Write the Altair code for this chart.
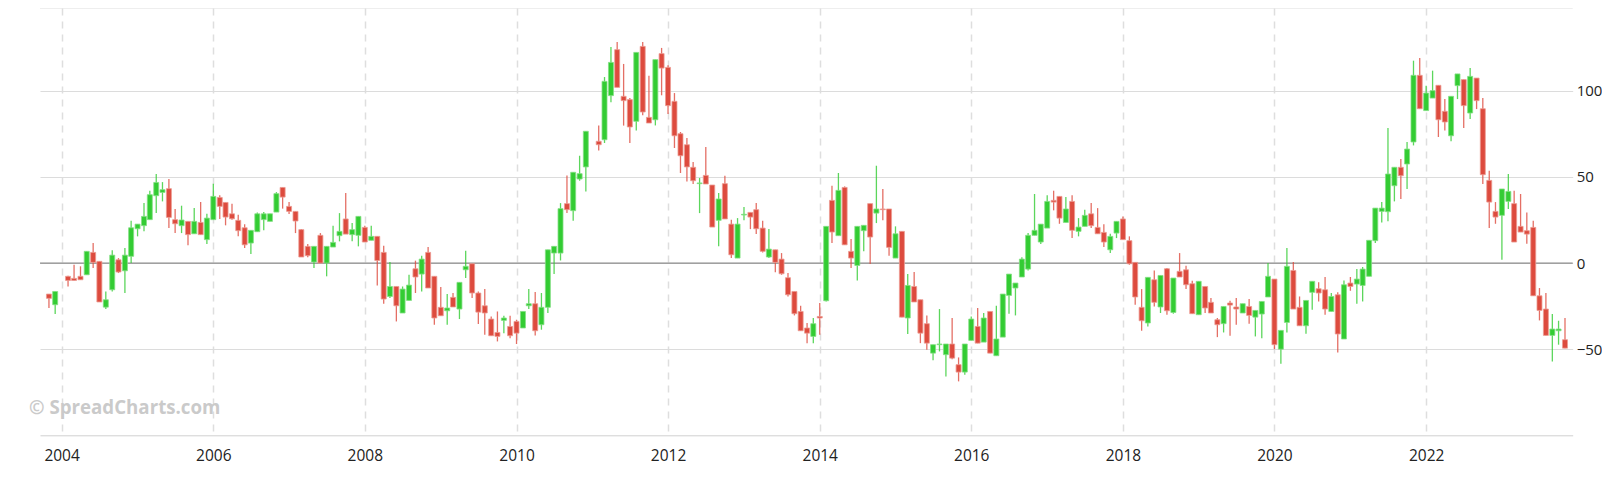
import altair as alt
import numpy as np
import pandas as pd

# Monthly candles starting 2003-11 (None = month without data)
start_year, start_month = 2003, 11

opens = [
    -18.0, -24.2,
    None, -7.7, -8.9, -7.7, -6.8, 6.2, 1.0, -25.6, -15.5, 1.9, -4.5, 3.9,
    19.9, 21.7, 25.2, 39.1, 41.0, 43.2, 25.2, 21.7, 24.2, 17.0, 23.6, 13.6,
    25.2, 38.1, 35.2, 28.6, 24.8, 20.5, 11.6, 18.2, 25.2, 24.2, 29.6, 43.9,
    32.9, 30.0, 19.4, 9.7, 0.6, 16.1, 0.0, 9.3, 15.9, 25.6, 16.5, 16.1,
    20.7, 13.2, 15.5, 6.2, -19.4, -13.6, -29.0, -21.7, -3.3, -6.4, 6.2, -7.7,
    -25.7, -27.7, -19.9, -26.7, -3.9, -0.4, -17.4, -24.8, -32.5, -40.3, -33.3, -36.8,
    -33.9, -37.7, -24.8, -23.6, -35.8, -25.7, 5.8, 5.8, 34.5, 30.4, 48.8, 55.8,
    None, 70.7, 71.6, 97.2, 123.9, 96.8, 94.9, 82.3, 125.8, 84.6, 83.2, 121.6,
    113.6, 93.9, 75.1, 68.7, 55.6, 46.1, 50.9, 45.3, 24.8, 46.1, 22.6, 2.9,
    27.9, 29.4, 31.0, 20.3, 3.5, 7.7, 2.3, -8.5, -16.5, -28.1, -37.7, -42.6,
    -31.0, -21.9, 36.4, 15.9, 43.9, 6.8, -1.4, 18.8, 34.5, 29.0, 31.4, 31.4,
    2.9, 18.4, -31.9, -13.6, -21.3, -35.2, -52.3, -47.4, -53.2, -47.0, -59.0, -63.3,
    -44.9, -36.8, -45.9, -28.1, -53.8, -43.0, -18.8, -14.5, -8.1, -3.5, 16.1, 12.2,
    20.3, 36.4, 38.7, 23.6, 35.8, 18.4, 21.3, 28.6, 20.7, 17.8, 7.7, 17.4,
    25.6, 13.0, 0.4, -25.7, -34.8, -9.7, -25.5, -3.3, -28.7, -4.8, -3.9, -12.0,
    -30.0, -13.6, -22.8, -32.9, -35.2, -23.2, -25.5, -29.0, -25.2, -31.4, -29.6, -19.7,
    -9.3, -50.0, -34.5, -4.3, -25.7, -36.4, -17.0, -14.9, -15.5, -28.1, -18.4, -44.1,
    -11.6, -12.2, -13.0, -7.7, 13.0, 30.0, 29.8, 44.9, 55.6, 57.5, 70.3, 109.0,
    88.5, 95.8, 103.2, 88.1, 73.9, 103.0, 106.5, 87.1, 107.4, 89.6, 48.0, 30.0,
    27.7, 35.8, 34.5, 21.3, 18.8, 20.7, -19.0, -26.7, -42.0, -39.3, -44.5,
]

highs = [
    -18.0, -16.5,
    None, -7.4, -1.0, -1.9, 6.8, 11.6, 1.0, -16.5, 7.4, 2.9, 8.7, 24.6,
    22.6, 34.8, 42.0, 51.7, 47.0, 48.8, 31.4, 33.3, 24.2, 31.9, 35.4, 28.6,
    46.1, 39.3, 35.2, 34.5, 28.1, 22.6, 19.0, 29.4, 29.6, 28.6, 41.2, 43.9,
    35.4, 30.0, 19.7, 11.0, 9.7, 17.4, 9.7, 21.7, 29.0, 40.7, 23.2, 27.1,
    21.7, 21.7, 15.5, 10.1, 0.6, -13.6, -13.6, -6.8, 1.4, 4.3, 9.3, -7.7,
    -13.9, -18.0, -17.4, -11.2, 7.2, -0.4, -16.5, -15.1, -31.0, -28.1, -30.6, -30.6,
    -32.9, -28.1, -15.1, -16.8, -17.4, 7.7, 9.7, 34.8, 50.9, 52.7, 62.3, 76.5,
    None, 79.8, 108.0, 125.4, 128.3, 115.6, 95.8, 122.3, 128.3, 108.8, 118.1, 124.9,
    114.8, 98.7, 76.1, 72.6, 58.7, 49.4, 67.4, 45.3, 40.7, 50.7, 25.2, 26.1,
    32.5, 29.4, 34.8, 24.6, 19.7, 7.7, 5.8, -5.8, -16.5, -24.8, -34.8, -31.9,
    -23.2, 21.3, 44.9, 52.3, 44.5, 13.9, 21.3, 21.9, 34.5, 56.5, 43.0, 31.4,
    21.3, 18.4, -6.4, -5.2, -21.3, -30.4, -47.4, -26.7, -47.0, -31.9, -54.8, -47.0,
    -31.0, -26.1, -29.0, -28.1, -24.8, -18.0, -6.4, -11.6, 3.3, 17.4, 40.1, 22.6,
    39.3, 42.0, 38.7, 38.3, 39.3, 26.1, 31.0, 34.8, 31.9, 22.6, 17.0, 24.2,
    27.1, 15.5, 0.4, -15.1, -8.3, -4.3, -7.2, -2.9, -8.7, 5.8, -1.5, -10.3,
    -10.6, -13.6, -20.3, -31.9, -25.2, -21.9, -20.3, -23.6, -20.9, -27.5, -22.3, 0.0,
    -9.3, -39.1, 8.7, 0.6, -19.4, -21.7, -10.6, -11.2, -8.1, -17.4, -17.0, -10.1,
    -8.1, -3.5, -2.3, 13.2, 31.9, 35.4, 78.4, 55.6, 60.4, 70.3, 117.5, 119.0,
    103.0, 111.7, 103.2, 95.2, 96.8, 109.8, 106.5, 113.2, 107.4, 95.8, 53.6, 35.4,
    43.0, 51.7, 42.0, 40.1, 29.4, 24.6, -14.5, -17.4, -29.6, -33.5, -31.9,
]

lows = [
    -26.1, -29.6,
    None, -13.6, -10.1, -9.7, -6.8, -2.9, -22.6, -26.7, -16.5, -5.8, -17.4, 0.0,
    15.5, 18.4, 25.2, 29.0, 35.8, 20.3, 17.4, 17.4, 10.3, 17.0, 16.5, 11.0,
    25.2, 25.6, 21.9, 25.2, 15.5, 8.7, 5.2, 18.2, 19.0, 24.2, 29.6, 31.6,
    28.5, 17.4, 3.5, 3.3, -2.9, 0.0, -7.7, 9.3, 12.6, 16.8, 12.6, 9.7,
    12.2, 13.2, -13.0, -23.6, -20.3, -33.9, -29.0, -21.7, -17.4, -16.5, -14.5, -35.8,
    -30.6, -35.8, -25.5, -32.5, -8.7, -20.3, -35.4, -41.6, -42.2, -45.5, -40.7, -43.6,
    -47.0, -37.7, -26.7, -42.0, -38.7, -29.0, -6.4, 1.5, 29.0, 24.6, 47.8, 41.6,
    None, 65.4, 69.7, 93.3, 102.0, 79.8, 69.7, 77.0, 85.8, 81.3, 79.9, 97.4,
    86.5, 66.8, 52.3, 47.4, 45.9, 29.0, 45.9, 20.9, 9.7, 25.6, 2.9, 2.9,
    24.8, 19.7, 16.8, 6.2, 2.9, -5.4, -6.8, -19.4, -30.4, -39.3, -46.5, -46.5,
    -41.6, -22.3, 11.6, 15.9, 10.6, -2.9, -10.1, 6.8, -0.6, 23.2, 24.8, 4.3,
    2.9, -31.4, -41.2, -22.6, -46.5, -50.3, -56.5, -51.3, -65.8, -55.8, -68.7, -64.9,
    -44.9, -46.5, -45.9, -52.3, -53.8, -43.0, -29.4, -30.4, -8.1, -4.3, 16.1, 11.0,
    20.3, 30.6, 22.8, 23.6, 14.5, 15.5, 21.3, 20.3, 17.0, 9.3, 5.8, 14.5,
    13.6, -1.0, -24.2, -39.3, -36.8, -25.2, -29.0, -30.0, -29.4, -8.1, -15.1, -29.4,
    -30.0, -29.0, -29.0, -43.0, -40.3, -42.2, -35.8, -29.0, -35.2, -42.6, -43.6, -19.7,
    -50.0, -58.5, -40.3, -26.7, -36.4, -41.0, -27.1, -22.3, -30.0, -28.1, -51.9, -44.1,
    -16.1, -23.6, -22.3, -7.7, 11.6, 23.6, 24.2, 35.8, 37.2, 43.0, 68.3, 89.6,
    88.5, 95.8, 73.2, 77.0, 70.7, 95.2, 78.4, 83.6, 89.4, 45.9, 20.3, 22.8,
    1.9, 31.4, 12.2, 18.0, 11.2, -19.0, -33.3, -42.0, -57.1, -47.4, -49.4,
]

closes = [
    -20.5, -16.5,
    None, -10.1, -10.1, -9.7, 6.8, 0.4, -22.6, -21.3, 4.6, -5.2, 4.6, 20.5,
    22.6, 27.1, 39.7, 46.8, 42.6, 26.5, 22.8, 25.0, 16.5, 24.2, 16.5, 26.1,
    38.7, 32.9, 26.7, 25.7, 18.8, 10.6, 19.0, 28.6, 28.6, 28.6, 40.3, 38.3,
    30.0, 24.4, 3.5, 4.3, 9.7, 0.0, 9.7, 12.0, 18.4, 16.8, 19.4, 27.1,
    12.2, 15.5, 1.5, -20.9, -13.6, -24.8, -15.1, -12.8, -8.1, 2.3, -14.5, -31.9,
    -30.6, -26.1, -25.5, -11.2, -1.9, -17.4, -28.5, -29.0, -42.2, -42.6, -31.9, -42.2,
    -40.7, -28.1, -23.6, -39.3, -25.7, 7.7, 9.7, 31.6, 31.0, 52.7, 51.9, 76.5,
    None, 68.7, 105.5, 116.5, 102.0, 94.3, 79.0, 122.3, 87.7, 81.3, 118.1, 113.2,
    91.4, 73.9, 62.3, 55.8, 47.8, 46.5, 45.9, 20.9, 37.2, 25.6, 4.8, 22.6,
    28.3, 26.7, 19.9, 6.8, 8.1, 0.4, -6.2, -18.4, -29.4, -39.3, -40.7, -35.2,
    -31.9, 21.3, 18.0, 42.2, 10.6, 2.9, 21.3, 21.9, 15.1, 31.4, 31.0, 9.1,
    17.0, -31.4, -13.0, -22.6, -40.7, -46.5, -47.4, -47.0, -47.0, -55.2, -63.3, -47.0,
    -32.5, -46.5, -31.9, -52.3, -44.1, -18.0, -6.4, -11.6, 2.3, 16.1, 19.0, 22.6,
    35.8, 35.4, 26.1, 31.4, 19.0, 20.9, 27.7, 21.7, 17.0, 12.2, 15.5, 24.2,
    13.6, -0.4, -19.7, -33.5, -8.3, -22.8, -7.2, -27.7, -8.7, -8.1, -12.6, -29.4,
    -10.6, -26.1, -29.0, -35.8, -25.2, -24.4, -26.7, -23.6, -30.4, -27.5, -22.3, -7.7,
    -47.4, -39.1, -1.9, -26.7, -36.4, -21.7, -10.6, -17.4, -26.7, -19.4, -41.2, -12.6,
    -13.6, -9.3, -3.5, 13.2, 31.9, 31.9, 51.7, 55.6, 50.7, 66.2, 109.0, 89.6,
    98.7, 100.1, 83.2, 81.9, 96.8, 109.8, 91.4, 108.4, 94.3, 51.3, 35.4, 26.7,
    43.0, 41.6, 12.2, 18.0, 16.8, -19.0, -27.5, -42.0, -38.3, -38.3, -49.4,
]

year_ticks = [2004, 2006, 2008, 2010, 2012, 2014, 2016, 2018, 2020, 2022]
y_ticks = [-50, 0, 50, 100]
watermark = "© SpreadCharts.com"

GREEN = "#33cc33"
GREEN_EDGE = "#84e084"
RED = "#dd4b3e"
RED_EDGE = "#ec9a92"

rows = []
for i, o in enumerate(opens):
    if o is None:
        continue
    k = start_month - 1 + i
    y, m = start_year + k // 12, k % 12 + 1
    rows.append({"date": f"{y:04d}-{m:02d}-01", "open": o, "high": highs[i],
                 "low": lows[i], "close": closes[i]})
df = pd.DataFrame(rows)

W, H = 1532.7, 427.3
FONT = "Open Sans"

xscale = alt.Scale(type="utc", domain=[alt.DateTime(year=2003, month=10, date=13, utc=True),
                                       alt.DateTime(year=2023, month=11, date=14, utc=True)])
yscale = alt.Scale(domain=[-100, 148.08], nice=False, zero=False)

xaxis = alt.Axis(values=[alt.DateTime(year=y, month=1, date=1, utc=True) for y in year_ticks],
                 labelExpr="utcFormat(datum.value, '%Y')", grid=True, gridDash=[7, 6],
                 gridColor="#dedede", gridWidth=1.5, ticks=False, domainColor="#d0d0d0",
                 domainWidth=1, labelFontSize=15.5, labelPadding=13, labelColor="#222222",
                 labelFont=FONT, title=None, labelFlush=False)
yaxis = alt.Axis(orient="right", values=y_ticks, grid=True, gridColor="#dcdcdc", gridWidth=1,
                 domain=False, ticks=False, labelPadding=3.5, labelFontSize=15,
                 labelFont=FONT, labelColor="#222222", title=None)

up = "datum.close >= datum.open"

wicks = alt.Chart(df).mark_rule(strokeWidth=1.3, opacity=0.8).encode(
    x=alt.X("date:T", scale=xscale, axis=xaxis),
    y=alt.Y("low:Q", scale=yscale, axis=yaxis),
    y2="high:Q",
    color=alt.condition(up, alt.value(GREEN), alt.value(RED)),
)

bodies = alt.Chart(df).mark_bar(size=5, strokeWidth=0.8).encode(
    x="date:T",
    y="open:Q",
    y2="close:Q",
    color=alt.condition(up, alt.value(GREEN), alt.value(RED)),
    stroke=alt.condition(up, alt.value(GREEN_EDGE), alt.value(RED_EDGE)),
)

zero = alt.Chart(pd.DataFrame({"v": [0]})).mark_rule(color="#8c8c8c", strokeWidth=1.2).encode(
    y="v:Q")

top = alt.Chart(pd.DataFrame({"v": [0]})).mark_rule(color="#dcdcdc", strokeWidth=1).encode(
    x=alt.value(0), x2=alt.value(W), y=alt.value(0))

wm = alt.Chart(pd.DataFrame({"t": [watermark]})).mark_text(
    align="left", baseline="alphabetic", fontSize=18.7, fontWeight="bold", font=FONT,
    color="#cacaca").encode(text="t:N", x=alt.value(-11), y=alt.value(406))

chart = alt.layer(zero, wicks, bodies, top, wm).properties(
    width=W, height=H,
    autosize=alt.AutoSizeParams(type="none"),
    padding={"left": 32, "top": 0, "right": 29.3, "bottom": 30},
    background="white",
).configure_view(stroke=None)

chart.save("out.html", embed_options={"renderer": "svg", "actions": False})
